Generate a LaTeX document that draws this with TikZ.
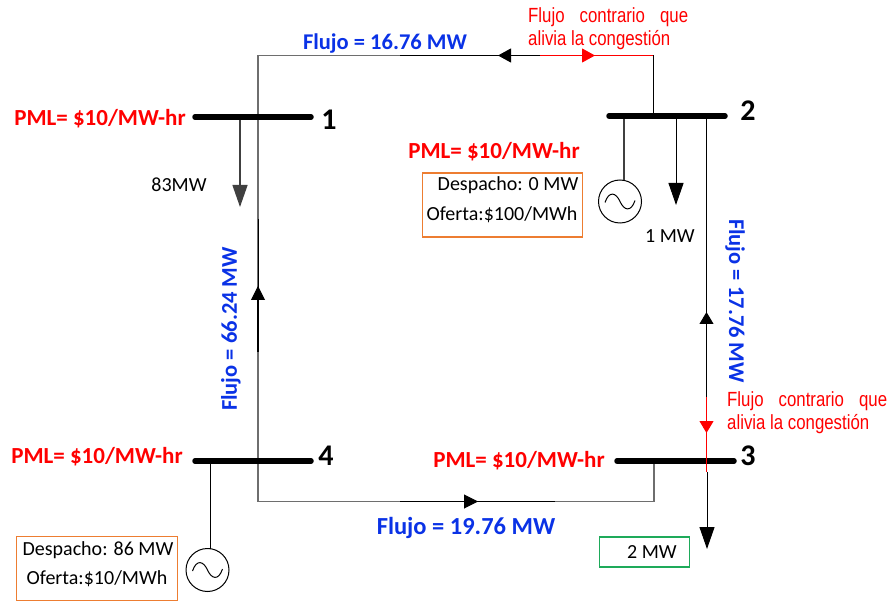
\documentclass[tikz,border=0pt]{standalone}
\usepackage{fontspec}
\setmainfont{Carlito}
\newfontfamily\narrowf[FakeStretch=0.82]{Liberation Sans}
\usetikzlibrary{arrows.meta}
\definecolor{flowblue}{RGB}{10,50,230}
\definecolor{boxorange}{RGB}{237,125,49}
\definecolor{boxgreen}{RGB}{30,170,90}
\definecolor{wiregray}{RGB}{110,110,110}
\tikzset{
  x=1pt,y=-1pt,
  busbar/.style={line width=5.5pt,line cap=round,black},
  wire/.style={line width=1pt,black},
  graywire/.style={line width=1.2pt,wiregray},
  redwire/.style={line width=1pt,red},
  loadtip/.style={-{Triangle[length=22pt,width=15pt]}},
  flowtip/.style={-{Triangle[length=13pt,width=14pt]}},
  pml/.style={text=red,font=\fontsize{23}{26}\selectfont\bfseries,inner sep=0pt},
  flowtxt/.style={text=flowblue,font=\fontsize{22.5}{26}\selectfont\bfseries,inner sep=0pt},
  busnum/.style={font=\fontsize{30}{32}\selectfont\bfseries,inner sep=0pt},
  plain/.style={font=\fontsize{20}{24}\selectfont,inner sep=0pt},
  note/.style={text=red,font=\fontsize{20.5}{23.5}\selectfont\narrowf,inner sep=0pt,align=left,anchor=north west},
  gen/.style={circle,draw,line width=1pt,minimum size=43pt,inner sep=0pt},
  sinewave/.style={line width=1pt},
  offerbox/.style={draw=boxorange,line width=1.5pt,inner sep=0pt},
  loadbox/.style={draw=boxgreen,line width=1.5pt,inner sep=0pt}
}
\begin{document}
\begin{tikzpicture}
\useasboundingbox (0,0) rectangle (891,601);
% bus anchors
\coordinate (b1l) at (195,117); \coordinate (b1r) at (311,117);
\coordinate (b2l) at (609,116); \coordinate (b2r) at (725,116);
\coordinate (b3l) at (617,461); \coordinate (b3r) at (734,461);
\coordinate (b4l) at (195,461); \coordinate (b4r) at (311,461);
% corners and connection points
\coordinate (t1) at (258,117); \coordinate (c1) at (258,55.5);
\coordinate (t2) at (653,116); \coordinate (c2) at (653,55.5);
\coordinate (t4) at (258,461); \coordinate (c4) at (258,501.5);
\coordinate (t3) at (654,461); \coordinate (c3) at (654,501.5);
\coordinate (t23) at (706.5,116); \coordinate (t32) at (706.5,461);
% line 1-2
\draw[graywire] (t1) -- (c1) -- (537,55.5);
\draw[wire] (400,55.5) -- (537,55.5);
\draw[redwire] (537,55.5) -- (c2);
\draw[wire] (c2) -- (t2);
\draw[wire,flowtip] (540,55.5) -- (498,55.5);
\draw[redwire,flowtip] (560,55.5) -- (595,55.5);
% line 1-4
\draw[graywire] (t1) -- (t4) -- (c4) -- (c3) -- (t3);
\draw[wire] (258,219) -- (258,352);
\draw[wire,line width=1.4pt] (258,352) -- (258,300);
\draw[wire,-{Triangle[length=14pt,width=14pt]}] (258,310) -- (258,286);
\draw[wire] (400,501.5) -- (555,501.5);
\draw[wire,-{Triangle[length=14pt,width=14pt]}] (440,501.5) -- (478,501.5);
% line 2-3
\draw[wire] (t23) -- (706.5,397);
\draw[wire,-{Triangle[length=12pt,width=14pt]}] (706.5,340) -- (706.5,312);
\draw[redwire] (706.5,397) -- (706.5,472);
\draw[redwire,-{Triangle[length=12pt,width=14pt]}] (706.5,400) -- (706.5,433);
\draw[wire,loadtip] (707,472) -- (707,549);
% loads
\draw[line width=1.3pt,black!75,loadtip] (240,117) -- (240,207);
\draw[wire,loadtip] (676,116) -- (676,205);
% generators
\node[gen] (g2) at (620,201.5) {};
\node[gen] (g4) at (207.5,570) {};
\draw[line width=1.3pt,black!75] (624,116) -- (624,180.5);
\draw[wire] (210,461) -- (210,548.5);
\draw[sinewave,shift={(620,201.5)}] (-15,1) .. controls (-11,-11) and (-4,-9) .. (0,0) .. controls (4,9) and (11,11) .. (15,-1);
\draw[sinewave,shift={(207.5,570)}] (-15,1) .. controls (-11,-11) and (-4,-9) .. (0,0) .. controls (4,9) and (11,11) .. (15,-1);
% buses
\draw[busbar] (b1l) -- (b1r);
\draw[busbar] (b2l) -- (b2r);
\draw[busbar] (b3l) -- (b3r);
\draw[busbar] (b4l) -- (b4r);
\draw[redwire] (706.5,458) -- (706.5,472);
% bus numbers
\node[busnum] (n1) at (329,120) {1};
\node[busnum] (n2) at (748,111) {2};
\node[busnum] (n3) at (748,456) {3};
\node[busnum] (n4) at (326,456) {4};
% prices
\node[pml] (p1) at (100,119) {PML= \$10/MW-hr};
\node[pml] (p2) at (494,152) {PML= \$10/MW-hr};
\node[pml] (p3) at (519,461) {PML= \$10/MW-hr};
\node[pml] (p4) at (97,457) {PML= \$10/MW-hr};
% flows
\node[flowtxt] (f12) at (385,44) {Flujo = 16.76 MW};
\node[flowtxt,font=\fontsize{24.5}{26}\selectfont\bfseries] (f34) at (466,528) {Flujo = 19.76 MW};
\node[flowtxt,rotate=90] (f14) at (231,329) {Flujo = 66.24 MW};
\node[flowtxt,rotate=-90] (f23) at (735,301) {Flujo = 17.76 MW};
% notes
\node[note] (r1) at (528,7) {\hbox to 160pt{Flujo\hfil contrario\hfil que}\\alivia la congestión};
\node[note] (r2) at (727,391) {\hbox to 160pt{Flujo\hfil contrario\hfil que}\\alivia la congestión};
% plain loads
\node[plain] (l1) at (179,185) {83MW};
\node[plain] (l2) at (670,236) {1 MW};
% boxes
\node[offerbox,minimum width=160pt,minimum height=64pt] (o2) at (502.5,205) {};
\node[plain] at (508,185) {Despacho: 0 MW};
\node[plain] at (502,215) {Oferta:\$100/MWh};
\node[offerbox,minimum width=161pt,minimum height=64pt] (o4) at (97,568.5) {};
\node[plain] at (98,550) {Despacho: 86 MW};
\node[plain] at (97,579) {Oferta:\$10/MWh};
\node[loadbox,minimum width=90pt,minimum height=30pt] (o3) at (644.5,552) {};
\node[plain] at (652,552) {2 MW};
\end{tikzpicture}
\end{document}
